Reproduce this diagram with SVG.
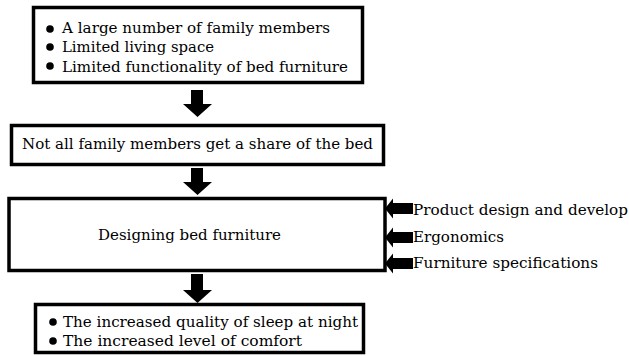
<svg xmlns="http://www.w3.org/2000/svg" width="629" height="356" viewBox="0 0 629 356">
<style>
.box{fill:#fff;stroke:#000;stroke-width:3.5}
.t{font-family:"DejaVu Serif","Liberation Serif",serif;font-size:15px;fill:#000}
.dot{fill:#000}
.arr{fill:#000}
</style>
<rect width="629" height="356" fill="#fff"/>
<g id="node-causes">
<rect class="box" x="33.5" y="7.5" width="329" height="75"/>
<circle class="dot" cx="50" cy="29" r="3.8"/>
<circle class="dot" cx="50" cy="47" r="3.8"/>
<circle class="dot" cx="50" cy="66" r="3.8"/>
<text class="t" x="62" y="33" textLength="268" lengthAdjust="spacingAndGlyphs">A large number of family members</text>
<text class="t" x="62" y="52" textLength="152" lengthAdjust="spacingAndGlyphs">Limited living space</text>
<text class="t" x="62" y="72" textLength="286" lengthAdjust="spacingAndGlyphs">Limited functionality of bed furniture</text>
</g>
<g id="node-problem">
<rect class="box" x="11.5" y="125.5" width="372" height="39"/>
<text class="t" x="22" y="149" textLength="351" lengthAdjust="spacingAndGlyphs">Not all family members get a share of the bed</text>
</g>
<g id="node-design">
<rect class="box" x="9" y="198.5" width="376" height="72"/>
<text class="t" x="98" y="240" textLength="183" lengthAdjust="spacingAndGlyphs">Designing bed furniture</text>
</g>
<g id="node-results">
<rect class="box" x="35.5" y="304.5" width="328" height="48"/>
<circle class="dot" cx="53" cy="322" r="3.8"/>
<circle class="dot" cx="53" cy="341" r="3.8"/>
<text class="t" x="63" y="327" textLength="295" lengthAdjust="spacingAndGlyphs">The increased quality of sleep at night</text>
<text class="t" x="63" y="346" textLength="239" lengthAdjust="spacingAndGlyphs">The increased level of comfort</text>
</g>
<g id="node-inputs">
<text class="t" x="413" y="215" textLength="215" lengthAdjust="spacingAndGlyphs">Product design and develop</text>
<text class="t" x="413" y="242" textLength="91" lengthAdjust="spacingAndGlyphs">Ergonomics</text>
<text class="t" x="413" y="268" textLength="185" lengthAdjust="spacingAndGlyphs">Furniture specifications</text>
</g>
<g id="connectors">
<polygon class="arr" points="191,90 203,90 203,104 212,104 197.5,117 183,104 191,104"/>
<polygon class="arr" points="191,168 203,168 203,182 212,182 197.5,195 183,182 191,182"/>
<polygon class="arr" points="191,274 203,274 203,290 212,290 197.5,303 183,290 191,290"/>
<polygon class="arr" points="413,203 393,203 393,198.5 385,208.5 393,218.5 393,214 413,214"/>
<polygon class="arr" points="413,232 393,232 393,227.5 385,237.5 393,247.5 393,243 413,243"/>
<polygon class="arr" points="413,258 393,258 393,253.5 385,263.5 393,273.5 393,269 413,269"/>
</g>
</svg>
